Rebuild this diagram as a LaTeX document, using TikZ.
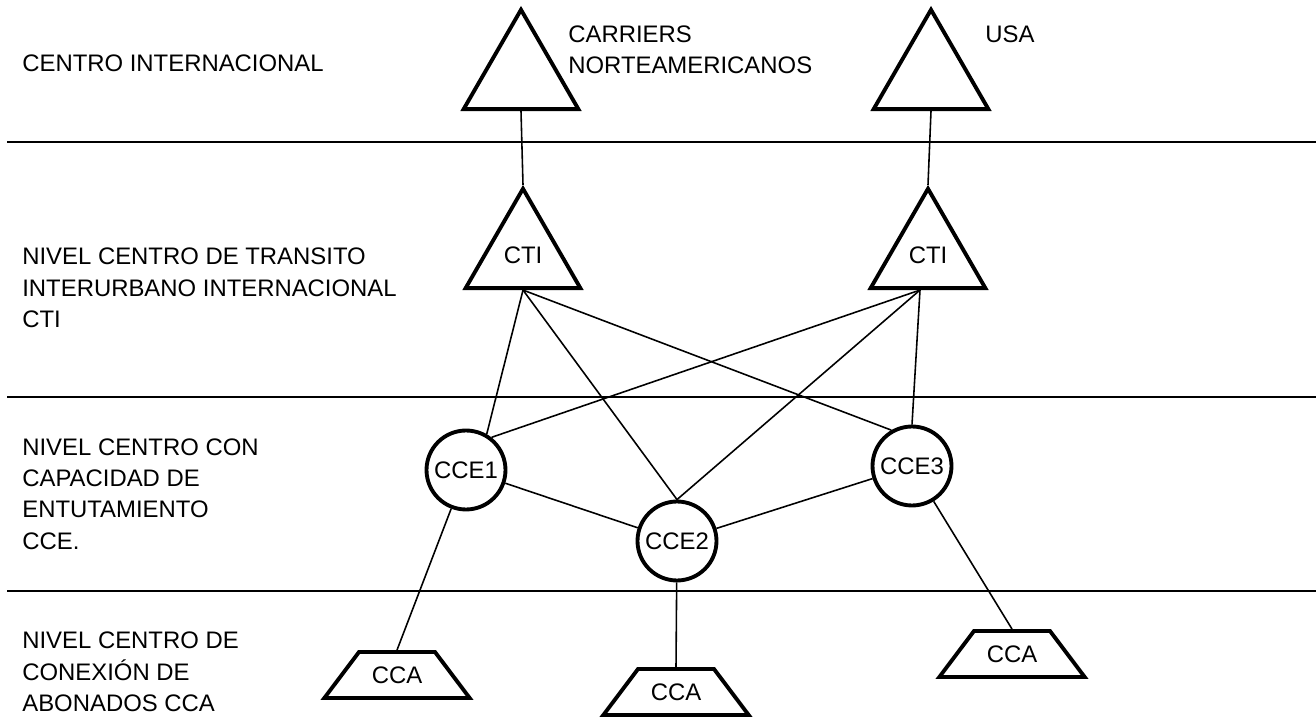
\documentclass[tikz,border=0pt]{standalone}
\usepackage{fontspec}
\setmainfont{Liberation Sans}
\usetikzlibrary{shapes.geometric}

\begin{document}
\begin{tikzpicture}[x=0.02cm, y=-0.02cm,
			every node/.style = {font=\fontsize{13.6}{17.8}\selectfont},
			nivel/.style = {anchor=west, align=left, inner sep=0pt},
			centro/.style = {regular polygon, regular polygon sides=3, draw, line width=2.2pt,
				minimum size=2.65cm, inner sep=0pt},
			cce/.style = {circle, draw, line width=2.2pt, minimum size=1.58cm, inner sep=0pt},
			cca/.style = {trapezium, draw, line width=2.2pt, trapezium left angle=53,
				trapezium right angle=53, text width=1.02cm, align=center,
				text height=0.34cm, text depth=0cm, inner xsep=0.25cm, inner ysep=0.29cm},
			enlace/.style = {line width=0.9pt},
			divisor/.style = {line width=1.2pt}]

			\useasboundingbox (0,0) rectangle (1316,719);

			% separadores de niveles
			\foreach \y in {142,397,591}
				\draw[divisor] (7,\y) -- (1316,\y);

			% textos de los niveles
			\node[nivel] (nivInt) at (22,63) {CENTRO INTERNACIONAL};
			\node[nivel] (nivCti) at (22,288) {NIVEL CENTRO DE TRANSITO\\INTERURBANO INTERNACIONAL\\CTI};
			\node[nivel] (nivCce) at (22,494) {NIVEL CENTRO CON\\CAPACIDAD DE\\ENTUTAMIENTO\\CCE.};
			\node[nivel] (nivCca) at (22,672) {NIVEL CENTRO DE\\CONEXIÓN DE\\ABONADOS CCA};

			% centros internacionales
			\node[centro] (carA) at (521,76) {};
			\node[centro] (carB) at (931,76) {};
			\node[nivel] (carAtxt) at (568,50) {CARRIERS\\NORTEAMERICANOS};
			\node[nivel] (carBtxt) at (985,34) {USA};

			% CTI
			\node[centro] (ctiA) at (523,255) {CTI};
			\node[centro] (ctiB) at (928,255) {CTI};
			\coordinate (ctiBb) at ([xshift=-0.16cm]ctiB.south);

			% CCE
			\node[cce] (cceA) at (466,470) {CCE1};
			\node[cce] (cceB) at (677,541) {CCE2};
			\node[cce] (cceC) at (912,466) {CCE3};

			% CCA
			\node[cca] (ccaA) at (397,675) {CCA};
			\node[cca] (ccaB) at (676,692) {CCA};
			\node[cca] (ccaC) at (1012,654) {CCA};

			\draw[enlace] (carA.south) -- (ctiA.north);
			\draw[enlace] (carB.south) -- (ctiB.north);

			\draw[enlace] (ctiA.south) -- (cceA.60);
			\draw[enlace] (ctiA.south) -- (cceB.north);
			\draw[enlace] (ctiA.south) -- (cceC.120);
			\draw[enlace] (ctiBb) -- (cceA.52);
			\draw[enlace] (ctiBb) -- (cceB.north);
			\draw[enlace] (ctiBb) -- (cceC.north);

			\draw[enlace] (cceA) -- (cceB);
			\draw[enlace] (cceB) -- (cceC);

			\draw[enlace] (cceA) -- (ccaA.north);
			\draw[enlace] (cceB) -- (ccaB.north);
			\draw[enlace] (cceC) -- (ccaC.north);
			\end{tikzpicture}
\end{document}
